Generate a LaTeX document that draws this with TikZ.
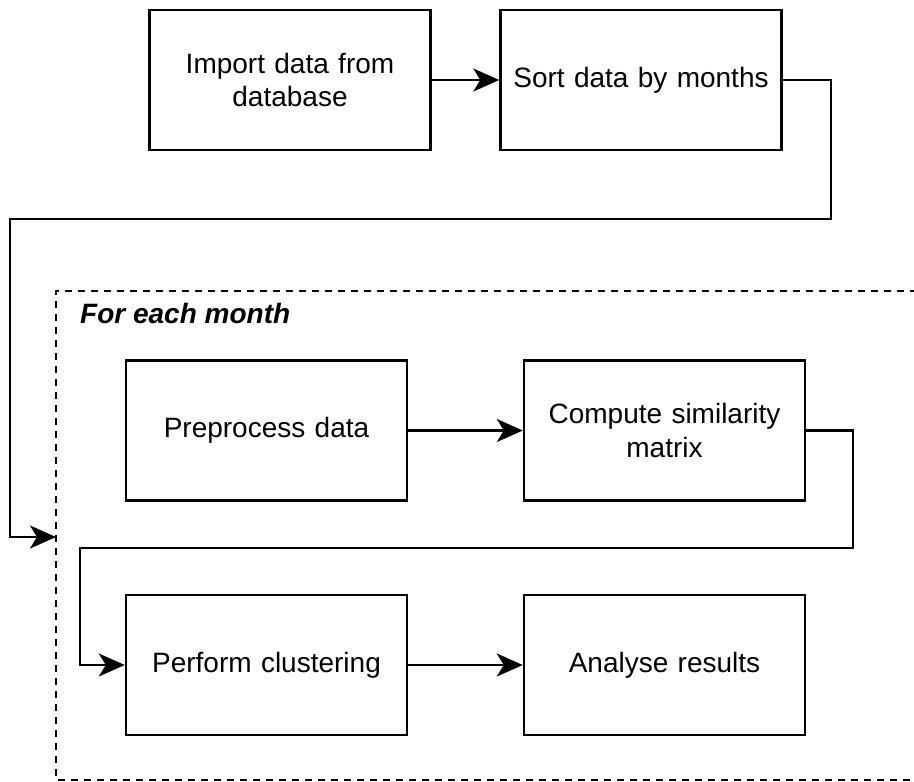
\documentclass[tikz,border=0pt]{standalone}
\usepackage{fontspec}
\setmainfont{Liberation Sans}
\usetikzlibrary{arrows.meta}
\begin{document}
\begin{tikzpicture}[x=1pt,y=-1pt,
  stepbox/.style={draw, line width=2.4pt, minimum width=281pt, minimum height=140pt,
    align=center, inner sep=0pt, font=\fontsize{28}{33.6}\selectfont, text width=270pt},
  flow/.style={line width=2.4pt, -{Stealth[length=26pt,width=23pt,inset=7pt]}},
  groupbox/.style={draw, line width=2.4pt, dash pattern=on 7pt off 6pt}]
\useasboundingbox (0,0) rectangle (914,782);
% loop region
\draw[groupbox] (930,291) -- (56,291) -- (56,780) -- (930,780);
\node[anchor=west, inner sep=0pt, font=\fontsize{28}{33.6}\selectfont\bfseries\itshape] (grouptitle) at (80,313) {For each month};
\coordinate (groupin) at (56,537);
% steps
\node[stepbox] (import) at (290,80) {Import data from\\database};
\node[stepbox] (sort) at (641,80) {Sort data by months};
\node[stepbox] (prep) at (266.5,430.5) {Preprocess data};
\node[stepbox] (sim) at (664.5,430.5) {Compute similarity\\matrix};
\node[stepbox] (clust) at (266.5,665) {Perform clustering};
\node[stepbox] (res) at (664.5,665) {Analyse results};
% connectors
\draw[flow] (import) -- (sort);
\draw[flow] (sort.east) -- ++(48,0) |- (10,219) |- (groupin);
\draw[flow] (prep) -- (sim);
\draw[flow] (sim.east) -- ++(47,0) |- (80,548) |- (clust.west);
\draw[flow] (clust) -- (res);
\end{tikzpicture}
\end{document}
